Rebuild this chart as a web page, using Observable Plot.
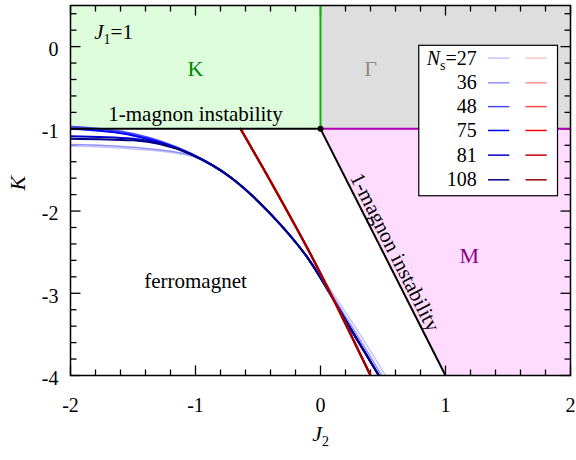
<!DOCTYPE html>
<html><head><meta charset="utf-8">
<script src="https://cdn.jsdelivr.net/npm/d3@7"></script>
<script src="https://cdn.jsdelivr.net/npm/@observablehq/plot@0.6"></script>
<style>body{margin:0;background:#fff} svg text{font-family:"Liberation Serif","Times New Roman",serif !important}</style>
</head><body><div id="chart"></div>
<script>
// ---- data ----
const sizes = [27, 36, 48, 75, 81, 108];
const sizeLabels = ["N_s=27", "36", "48", "75", "81", "108"];
const blueColors = ["#c4c4ff", "#9090ff", "#4a4aff", "#0000ff", "#0000c8", "#000080"];
const redColors = ["#ffc4c4", "#ff9090", "#ff4a4a", "#ff0000", "#c80000", "#990000"];

const blueJ2 = [-2, -1.5, -1.04, -0.72, -0.40, -0.107, 0.24, 0.467];
const blueEndJ2 = [0.52, 0.49, 0.467, 0.467, 0.467, 0.467];
const blueK27 = [-1.21, -1.245, -1.33, -1.60, -2.04, -2.56, -3.32, -4];
const blueK36 = [-1.19, -1.225, -1.32, -1.595, -2.037, -2.56, -3.38, -4];
const blueK48 = [-0.975, -1.06, -1.30, -1.588, -2.034, -2.56, -3.43, -4];
const blueK75 = [-1.0, -1.08, -1.303, -1.588, -2.034, -2.56, -3.43, -4];
const blueK81 = [-1.09, -1.12, -1.306, -1.588, -2.034, -2.56, -3.43, -4];
const blueK108 = [-1.12, -1.14, -1.308, -1.588, -2.034, -2.56, -3.43, -4];
const blueK = [blueK27, blueK36, blueK48, blueK75, blueK81, blueK108];

const redJ2 = [-0.64, -0.373, -0.088, 0.4];
const redK = [-1, -1.71, -2.5, -4];

const xTicks = [-2, -1, 0, 1, 2];
const yTicks = [-4, -3, -2, -1, 0];
const xMinor = [-1.8, -1.6, -1.4, -1.2, -0.8, -0.6, -0.4, -0.2, 0.2, 0.4, 0.6, 0.8, 1.2, 1.4, 1.6, 1.8];
const yMinor = [-3.8, -3.6, -3.4, -3.2, -2.8, -2.6, -2.4, -2.2, -1.8, -1.6, -1.4, -1.2, -0.8, -0.6, -0.4, -0.2, 0.2, 0.4];

// phase regions
const rectRegions = [
  {x1: -2, x2: 0, y1: -1, y2: 0.5, fill: "#dcfcdc"},
  {x1: 0, x2: 2, y1: -1, y2: 0.5, fill: "#dedede"}
];
const mJ2 = [0, 1, 2];
const mLow = [-1, -4, -4];
const mHigh = [-1, -1, -1];

const boundaryBlack = [
  {x1: -2, y1: -1, x2: 0, y2: -1},
  {x1: 0, y1: -1, x2: 1, y2: -4}
];
const boundaryGreen = [{x1: 0, y1: -1, x2: 0, y2: 0.5}];
const boundaryMagenta = [{x1: 0, y1: -1, x2: 2, y2: -1}];
const triplePoint = [{x: 0, y: -1}];

const phaseNames = ["K", "Γ", "M"];
const phaseJ2 = [-1.0, 0.4, 1.19];
const phaseK = [-0.27, -0.27, -2.54];
const phaseColors = ["#008800", "#8c8c8c", "#8b008b"];

// legend placement (data coords)
const legendK = [-0.14, -0.44, -0.73, -1.02, -1.32, -1.62];

// ---- layout ----
const font = "Liberation Serif";
const W = 576, H = 460, ML = 70, MR = 6, MT = 5, MB = 85;
const FW = W - ML - MR, FH = H - MT - MB;
const xDom = [-2, 2], yDom = [-4, 0.5];
const xPerPx = (xDom[1] - xDom[0]) / FW, yPerPx = (yDom[1] - yDom[0]) / FH;

// ---- build tables ----
const blueRows = [];
sizes.forEach((n, i) => {
  blueJ2.forEach((x, j) => {
    blueRows.push({n, i, x: j === blueJ2.length - 1 ? blueEndJ2[i] : x, y: blueK[i][j]});
  });
});
const redRows = [];
sizes.forEach((n, i) => redJ2.forEach((x, j) => redRows.push({n, i, x, y: redK[j]})));
const mRegion = mJ2.map((x, i) => ({x, y1: mLow[i], y2: mHigh[i]}));
const legendRows = sizes.map((n, i) => ({n, label: sizeLabels[i], y: legendK[i], bc: blueColors[i], rc: redColors[i]}));

// inward tick segments (pixel lengths converted to data units)
const tickSegs = [];
function addX(list, len) {
  list.forEach(t => {
    tickSegs.push({x1: t, x2: t, y1: yDom[0], y2: yDom[0] + len * yPerPx});
    tickSegs.push({x1: t, x2: t, y1: yDom[1], y2: yDom[1] - len * yPerPx});
  });
}
function addY(list, len) {
  list.forEach(t => {
    tickSegs.push({y1: t, y2: t, x1: xDom[0], x2: xDom[0] + len * xPerPx});
    tickSegs.push({y1: t, y2: t, x1: xDom[1], x2: xDom[1] - len * xPerPx});
  });
}
addX(xTicks, 10); addX(xMinor, 6); addY(yTicks, 10); addY(yMinor, 6);

const chart = Plot.plot({
  width: W,
  height: H,
  marginLeft: ML,
  marginRight: MR,
  marginTop: MT,
  marginBottom: MB,
  style: {fontFamily: font, fontSize: "20px", color: "#000", background: "#fff"},
  x: {domain: xDom},
  y: {domain: yDom},
  marks: [
    Plot.rect(rectRegions, {x1: "x1", x2: "x2", y1: "y1", y2: "y2", fill: d => d.fill}),
    Plot.areaY(mRegion, {x: "x", y1: "y1", y2: "y2", fill: "#ffdcff"}),
    // inward ticks on all four sides
    Plot.link(tickSegs, {x1: "x1", x2: "x2", y1: "y1", y2: "y2", stroke: "#000", strokeWidth: 1.3}),
    // finite-size curves
    ...sizes.map((n, i) => Plot.line(blueRows.filter(d => d.i === i), {
      x: "x", y: "y", stroke: blueColors[i], strokeWidth: i < 2 ? 1.5 : 2, curve: "monotone-x", clip: true
    })),
    ...sizes.map((n, i) => Plot.line(redRows.filter(d => d.i === i), {
      x: "x", y: "y", stroke: redColors[i], strokeWidth: 2, curve: "monotone-x", clip: true
    })),
    // boundaries
    Plot.link(boundaryGreen, {x1: "x1", y1: "y1", x2: "x2", y2: "y2", stroke: "#11b011", strokeWidth: 2}),
    Plot.link(boundaryMagenta, {x1: "x1", y1: "y1", x2: "x2", y2: "y2", stroke: "#b400b4", strokeWidth: 2}),
    Plot.link(boundaryBlack, {x1: "x1", y1: "y1", x2: "x2", y2: "y2", stroke: "#000", strokeWidth: 2}),
    Plot.dot(triplePoint, {x: "x", y: "y", r: 3, fill: "#000"}),
    // labels
    Plot.text(phaseNames, {x: (d, i) => phaseJ2[i], y: (d, i) => phaseK[i], text: d => d, fill: (d, i) => phaseColors[i], fontSize: 22, fontFamily: font}),
    Plot.text(["ferromagnet"], {x: -1.0, y: -2.85, text: d => d, fill: "#000", fontSize: 21, fontFamily: font}),
    Plot.text(["J_1=1"], {x: -1.81, y: 0.17, text: d => d, textAnchor: "start", fill: "#000", fontSize: 21, fontFamily: font}),
    Plot.text(["1-magnon instability"], {x: -1, y: -1, dy: -15, text: d => d, fill: "#000", fontSize: 21, fontFamily: font}),
    Plot.text(["1-magnon instability"], {x: 0.52, y: -2.56, dx: 9.5, dy: -4.8, rotate: 63.2, text: d => d, fill: "#000", fontSize: 21, fontFamily: font}),
    // legend
    Plot.rect([{x1: 0.79, x2: 1.9, y1: -1.82, y2: 0.01}], {x1: "x1", x2: "x2", y1: "y1", y2: "y2", fill: "#fff", stroke: "#000", strokeWidth: 1.2}),
    Plot.text(legendRows, {x: 1.25, y: "y", text: "label", textAnchor: "end", fill: "#000", fontSize: 20, fontFamily: font}),
    Plot.link(legendRows, {x1: 1.34, x2: 1.51, y1: "y", y2: "y", stroke: d => d.bc, strokeWidth: 1.5}),
    Plot.link(legendRows, {x1: 1.64, x2: 1.81, y1: "y", y2: "y", stroke: d => d.rc, strokeWidth: 1.5}),
    Plot.frame({stroke: "#000", strokeWidth: 1.5}),
    // tick labels
    Plot.axisX({ticks: xTicks, anchor: "bottom", tickSize: 0, tickPadding: 22, tickFormat: d => String(d), fontSize: 20, fontFamily: font, label: null}),
    Plot.axisY({ticks: yTicks, anchor: "left", tickSize: 0, tickPadding: 12, dy: 3, tickFormat: d => String(d), fontSize: 20, fontFamily: font, label: null}),
    // axis titles
    Plot.text(["J_2"], {frameAnchor: "bottom", dy: 65, text: d => d, fill: "#000", fontSize: 22, fontFamily: font}),
    Plot.text(["K"], {frameAnchor: "left", dx: -53, rotate: -90, text: d => d, fill: "#000", fontSize: 22, fontStyle: "italic", fontFamily: font})
  ]
});
document.getElementById("chart").appendChild(chart);

// rich text: italic symbol + subscript
try {
  chart.querySelectorAll("text").forEach(t => {
    const s = t.textContent;
    const m = /^([A-Z])_([0-9a-z])(.*)$/.exec(s);
    if (m) {
      const fs = parseFloat(t.getAttribute("font-size") || 20);
      t.textContent = "";
      const ns = "http://www.w3.org/2000/svg";
      const a = document.createElementNS(ns, "tspan");
      a.setAttribute("font-style", "italic");
      a.textContent = m[1];
      const b = document.createElementNS(ns, "tspan");
      b.setAttribute("font-size", Math.round(fs * 0.7));
      b.setAttribute("dy", Math.round(fs * 0.25));
      b.textContent = m[2];
      t.appendChild(a); t.appendChild(b);
      if (m[3]) {
        const c = document.createElementNS(ns, "tspan");
        c.setAttribute("dy", -Math.round(fs * 0.25));
        c.textContent = m[3];
        t.appendChild(c);
      }
    }
  });
} catch (e) {}
</script>
</body></html>
